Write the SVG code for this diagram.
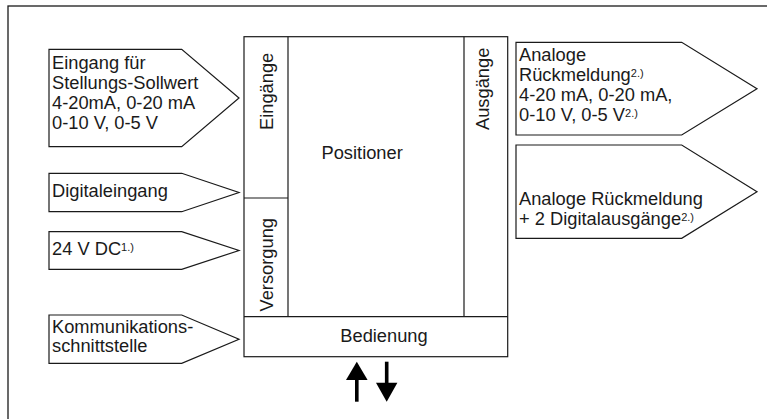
<svg xmlns="http://www.w3.org/2000/svg" width="767" height="419" viewBox="0 0 767 419">
<style>
  .ln { fill: none; stroke: #1a1a1a; stroke-width: 1.2; }
  .shape { fill: #ffffff; stroke: #1a1a1a; stroke-width: 1.2; stroke-linejoin: miter; }
  .t { font-family: "Liberation Sans", Arial, Helvetica, sans-serif; font-size: 18.3px; fill: #1a1a1a; }
  .sup { font-size: 11px; }
  .arr { fill: #000000; stroke: none; }
</style>
<rect width="767" height="419" fill="#ffffff"/>
<rect id="frame" x="8" y="6" width="800" height="450" fill="none" stroke="#1a1a1a" stroke-width="1.3"/>

<g id="positioner">
  <rect class="shape" x="244" y="36.7" width="263.7" height="320"/>
  <line class="ln" x1="288" y1="36.7" x2="288" y2="316.7"/>
  <line class="ln" x1="464" y1="36.7" x2="464" y2="316.7"/>
  <line class="ln" x1="244" y1="198" x2="288" y2="198"/>
  <line class="ln" x1="244" y1="316.7" x2="507.7" y2="316.7"/>
  <text class="t" x="321.5" y="159">Positioner</text>
</g>
<g id="eingaenge">
  <text class="t" transform="translate(273,130) rotate(-90)">Eingänge</text>
</g>
<g id="versorgung">
  <text class="t" transform="translate(273,311.5) rotate(-90)">Versorgung</text>
</g>
<g id="ausgaenge">
  <text class="t" transform="translate(488.5,130) rotate(-90)">Ausgänge</text>
</g>
<g id="bedienung">
  <text class="t" x="384" y="342" text-anchor="middle">Bedienung</text>
</g>

<g id="in-sollwert">
  <polygon class="shape" points="49,49.3 181.7,49.3 239,98 181.7,146.7 49,146.7"/>
  <text class="t" x="52" y="68.5">Eingang für</text>
  <text class="t" x="52" y="88.5">Stellungs-Sollwert</text>
  <text class="t" x="52" y="108.5">4-20mA, 0-20 mA</text>
  <text class="t" x="52" y="128.5">0-10 V, 0-5 V</text>
</g>
<g id="in-digital">
  <polygon class="shape" points="49,173.3 181.7,173.3 239,192.5 181.7,211.7 49,211.7"/>
  <text class="t" x="52" y="197">Digitaleingang</text>
</g>
<g id="in-24v">
  <polygon class="shape" points="49,231.7 181.7,231.7 239,250.5 181.7,269.3 49,269.3"/>
  <text class="t" x="52" y="255">24 V DC<tspan class="sup" dy="-4">1.)</tspan></text>
</g>
<g id="in-komm">
  <polygon class="shape" points="49,315 181.7,315 239,339.2 181.7,363.3 49,363.3"/>
  <text class="t" x="52" y="332.5">Kommunikations-</text>
  <text class="t" x="52" y="351.5">schnittstelle</text>
</g>

<g id="out-analog">
  <polygon class="shape" points="516,42.3 681.7,42.3 757,88.7 681.7,135 516,135"/>
  <text class="t" x="519" y="60.7">Analoge</text>
  <text class="t" x="519" y="80.7">Rückmeldung<tspan class="sup" dy="-4">2.)</tspan></text>
  <text class="t" x="519" y="100.7">4-20 mA, 0-20 mA,</text>
  <text class="t" x="519" y="121">0-10 V, 0-5 V<tspan class="sup" dy="-4">2.)</tspan></text>
</g>
<g id="out-analog-digital">
  <polygon class="shape" points="516,145 681.7,145 757,191.7 681.7,238.3 516,238.3"/>
  <text class="t" x="519" y="205">Analoge Rückmeldung</text>
  <text class="t" x="519" y="224.5">+ 2 Digitalausgänge<tspan class="sup" dy="-4">2.)</tspan></text>
</g>

<g id="connectors">
  <rect class="arr" x="355" y="378" width="3.6" height="23.7"/>
  <polygon class="arr" points="346,380 367.6,380 356.8,361.7"/>
  <rect class="arr" x="384.9" y="361.7" width="3.6" height="23"/>
  <polygon class="arr" points="376,382.7 397.4,382.7 386.7,401.7"/>
</g>
</svg>
